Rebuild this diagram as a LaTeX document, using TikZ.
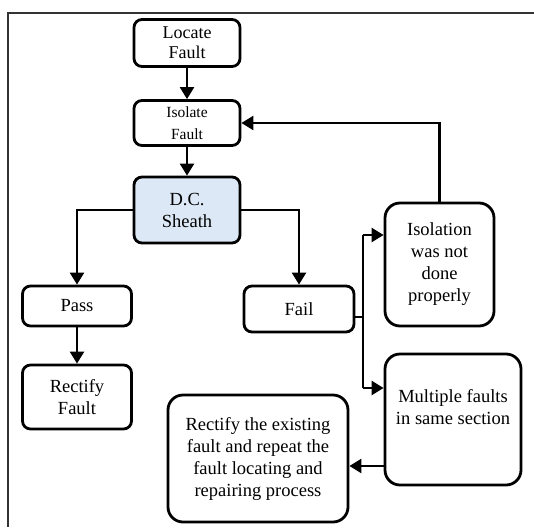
\documentclass[tikz,border=0pt]{standalone}
\usepackage{fontspec}
\setmainfont{Liberation Serif}
\usetikzlibrary{arrows.meta}
\definecolor{dcfill}{HTML}{DCE8F5}
\tikzset{
  box/.style={draw=black, line width=2.8pt, rounded corners=8pt, fill=white,
    inner sep=0pt, align=center, font=\fontsize{18.5}{22}\selectfont},
  bigbox/.style={box, rounded corners=15pt},
  conn/.style={draw=black, line width=2.4pt},
  arr/.style={conn, -{Triangle[length=12pt,width=14pt]}},
  frameline/.style={draw=black!80, line width=1.6pt}
}
\begin{document}
\begin{tikzpicture}[x=1pt,y=-1pt]
\useasboundingbox (0,0) rectangle (534,527);
\draw[frameline] (534,13) -- (8,13) -- (8,527);

\node[box, minimum width=106pt, minimum height=47pt, font=\fontsize{18}{20}\selectfont] (loc) at (187,43) {Locate\\Fault};
\node[box, minimum width=106pt, minimum height=45pt, font=\fontsize{15.5}{22}\selectfont] (iso) at (187,123) {Isolate\\Fault};
\node[box, fill=dcfill, minimum width=106pt, minimum height=66pt] (dc) at (187,210) {D.C.\\Sheath};
\node[box, minimum width=109pt, minimum height=40pt] (pass) at (77,306) {Pass};
\node[box, minimum width=110pt, minimum height=46pt] (fail) at (299,309) {Fail};
\node[box, minimum width=109pt, minimum height=64pt] (rf) at (77,397) {Rectify\\Fault};
\node[bigbox, minimum width=109pt, minimum height=123pt] (isol) at (439.5,264.5) {Isolation\\was not\\done\\properly};
\node[bigbox, minimum width=136pt, minimum height=131pt, text depth=25pt] (mult) at (453,419.5) {Multiple faults\\in same section};
\node[bigbox, minimum width=180pt, minimum height=127pt] (rect) at (258,458.5) {Rectify the existing\\fault and repeat the\\fault locating and\\repairing process};

\coordinate (jt) at (363,235);
\coordinate (jb) at (363,388);

\draw[arr] (loc.south) -- (iso.north);
\draw[arr] (iso.south) -- (dc.north);
\draw[arr] (isol.north) |- (iso.east);
\draw[arr] (dc.west) -| (pass.north);
\draw[arr] (dc.east) -| (fail.north);
\draw[arr] (pass.south) -- (rf.north);
\draw[conn] ([yshift=-8pt]fail.east) -- ([yshift=-8pt]fail.east -| jt);
\draw[conn] (jt) -- (jb);
\draw[arr] (jt) -- (jt -| isol.west);
\draw[arr] (jb) -- (jb -| mult.west);
\draw[arr] ([yshift=-46.5pt]mult.west) -- ([yshift=-46.5pt]mult.west -| rect.east);
\end{tikzpicture}
\end{document}
